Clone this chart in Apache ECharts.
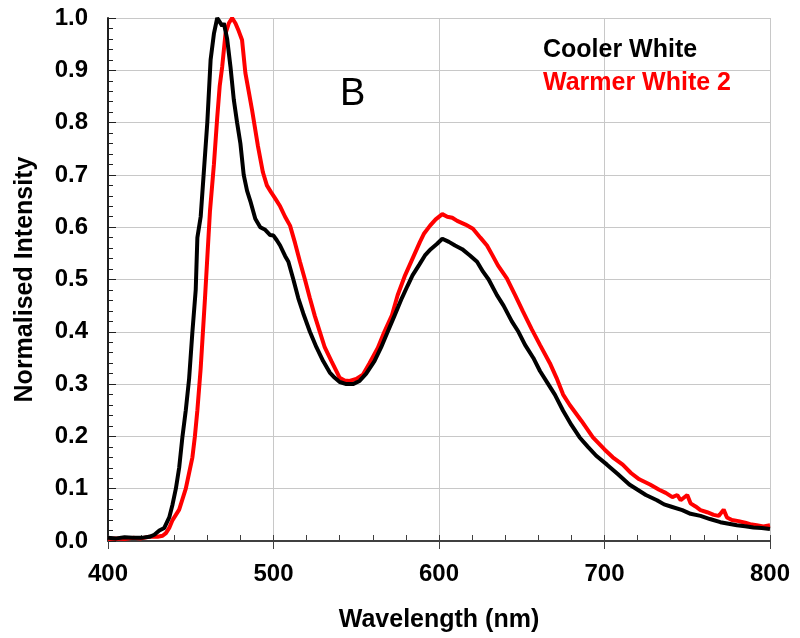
<!DOCTYPE html>
<html><head><meta charset="utf-8">
<script src="https://cdn.jsdelivr.net/npm/echarts@6/dist/echarts.min.js"></script>
<style>html,body{margin:0;padding:0;background:#fff}#c{width:800px;height:638px}</style>
</head><body><div id="c"></div>
<script>
const coolWl = [400,405,410,415,420,425,428,431,434,437,439,441,443,445,447,449,451,453,454,456,458,460,462,464,466,467,469,470,472,474,476,478,480,482,484,486,489,492,495,498,500,502,504,507,509,512,515,518,522,526,530,534,537,540,544,548,552,556,561,565,569,573,577.5,581,584,588,591.5,595,598.7,602,606,609.7,614,618.7,623,626.6,630,635,639,644,648,652,657,661,666,670,675,680,685,690,695,701.5,708,715,720,725,731.7,736,740,747,752,758,763.7,770,775,780,785,790,795,800];
const coolVal = [0.006,0.005,0.007,0.006,0.006,0.008,0.012,0.02,0.025,0.045,0.07,0.10,0.14,0.20,0.25,0.31,0.40,0.48,0.58,0.62,0.71,0.80,0.92,0.97,1.0,0.995,0.985,0.99,0.96,0.907,0.844,0.80,0.76,0.70,0.67,0.65,0.616,0.60,0.595,0.585,0.584,0.575,0.565,0.545,0.534,0.50,0.464,0.435,0.40,0.37,0.344,0.322,0.312,0.304,0.30,0.30,0.306,0.32,0.344,0.37,0.40,0.43,0.464,0.488,0.508,0.528,0.546,0.558,0.568,0.578,0.572,0.565,0.558,0.546,0.534,0.515,0.50,0.47,0.45,0.42,0.40,0.375,0.35,0.325,0.30,0.28,0.249,0.222,0.198,0.18,0.163,0.146,0.128,0.108,0.098,0.088,0.078,0.07,0.066,0.059,0.052,0.048,0.042,0.036,0.033,0.03,0.028,0.026,0.025,0.023];
const warmWl = [400,405,410,415,420,425,430,433,435,437,439,441,443,445,447,449,451,452.5,454,456,458.6,461.6,464,466,467.5,469,471,473,475,477,479,481,483,485,487,490.6,493.6,496,498.5,501,504,507,510,513,516,519,522,525,528,531,535,538,540,543,546,550,554,558,563,567,571.6,575,579.5,584,588.5,591,594.6,598,602,605,608,611,616,620.5,625,629,632,635.6,641,646,650.7,656,661,667,671,675,679,686,693,700,705,711,716,721,727.5,733,737,741,744,746,750,752,755,758,762,766,769,772,774,777,781,785,788,792,796,800];
const warmVal = [0.004,0.005,0.004,0.006,0.005,0.008,0.008,0.01,0.015,0.025,0.04,0.05,0.06,0.08,0.10,0.13,0.16,0.20,0.25,0.33,0.464,0.63,0.72,0.81,0.87,0.907,0.97,0.99,1.0,0.99,0.975,0.958,0.895,0.86,0.825,0.755,0.705,0.68,0.667,0.655,0.64,0.62,0.603,0.57,0.534,0.50,0.464,0.43,0.40,0.37,0.344,0.325,0.312,0.307,0.306,0.31,0.318,0.34,0.369,0.40,0.432,0.47,0.508,0.54,0.572,0.588,0.603,0.615,0.625,0.62,0.618,0.612,0.605,0.597,0.58,0.565,0.548,0.527,0.502,0.47,0.439,0.405,0.375,0.34,0.312,0.28,0.26,0.23,0.198,0.175,0.16,0.146,0.13,0.118,0.108,0.098,0.092,0.084,0.088,0.078,0.088,0.072,0.066,0.059,0.055,0.05,0.048,0.06,0.045,0.04,0.038,0.035,0.032,0.03,0.028,0.03];
const seriesNames = ['Cooler White','Warmer White 2'];
const xTicks = [400,500,600,700,800];
const yTicks = [0,0.1,0.2,0.3,0.4,0.5,0.6,0.7,0.8,0.9,1.0];

const zip = (a,b)=>a.map((v,i)=>[v,b[i]]);
const FONT = '"Liberation Sans", Arial, sans-serif';
const chart = echarts.init(document.getElementById('c'), null, {renderer:'canvas'});
chart.setOption({
  animation:false,
  backgroundColor:'#fff',
  grid:{left:108,right:30,top:18,bottom:94,containLabel:false},
  legend:{
    orient:'vertical', left:533, top:33, icon:'none', itemWidth:0, itemHeight:24, itemGap:8,
    selectedMode:false,
    textStyle:{fontFamily:FONT,fontWeight:'bold',fontSize:25},
    data:[
      {name:seriesNames[0],textStyle:{color:'#000'}},
      {name:seriesNames[1],textStyle:{color:'#ff0000'}}
    ]
  },
  graphic:[{type:'text',left:340,top:76,style:{text:'B',fontFamily:FONT,fontSize:38,fill:'#000'}}],
  xAxis:[{
    type:'value',min:xTicks[0],max:xTicks[xTicks.length-1],interval:100,
    name:'Wavelength (nm)',nameLocation:'middle',nameGap:67,
    nameTextStyle:{fontFamily:FONT,fontWeight:'bold',fontSize:25,color:'#000'},
    axisLine:{show:true,onZero:false,lineStyle:{color:'#404040',width:2}},
    axisTick:{show:true,inside:false,length:8,lineStyle:{color:'#404040',width:1}},
    axisLabel:{fontFamily:FONT,fontWeight:'bold',fontSize:24,color:'#000',margin:21},
    splitLine:{show:true,lineStyle:{color:'#c8c8c8',width:1}}
  },{
    type:'value',position:'bottom',min:400,max:800,interval:20,offset:0,
    axisLine:{show:false},
    axisTick:{show:true,inside:true,length:6,lineStyle:{color:'#404040',width:1}},
    axisLabel:{show:false},splitLine:{show:false}
  }],
  yAxis:{
    type:'value',min:0,max:1,interval:0.1,
    name:'Normalised Intensity',nameLocation:'middle',nameGap:70,
    nameTextStyle:{fontFamily:FONT,fontWeight:'bold',fontSize:25,color:'#000'},
    axisLine:{show:true,onZero:false,lineStyle:{color:'#202020',width:2}},
    axisTick:{show:true,inside:true,length:8,lineStyle:{color:'#202020',width:1}},
    minorTick:{show:true,splitNumber:5,length:5,lineStyle:{color:'#202020',width:1}},
    axisLabel:{fontFamily:FONT,fontWeight:'bold',fontSize:24,color:'#000',margin:20,
      formatter:v=>v.toFixed(1)},
    splitLine:{show:true,lineStyle:{color:'#c8c8c8',width:1}}
  },
  series:[
    {name:seriesNames[1],type:'line',data:zip(warmWl,warmVal),showSymbol:false,symbol:'none',
     lineStyle:{color:'#ff0000',width:4},itemStyle:{color:'#ff0000'},z:2},
    {name:seriesNames[0],type:'line',data:zip(coolWl,coolVal),showSymbol:false,symbol:'none',
     lineStyle:{color:'#000',width:4},itemStyle:{color:'#000'},z:3}
  ]
});
</script></body></html>
